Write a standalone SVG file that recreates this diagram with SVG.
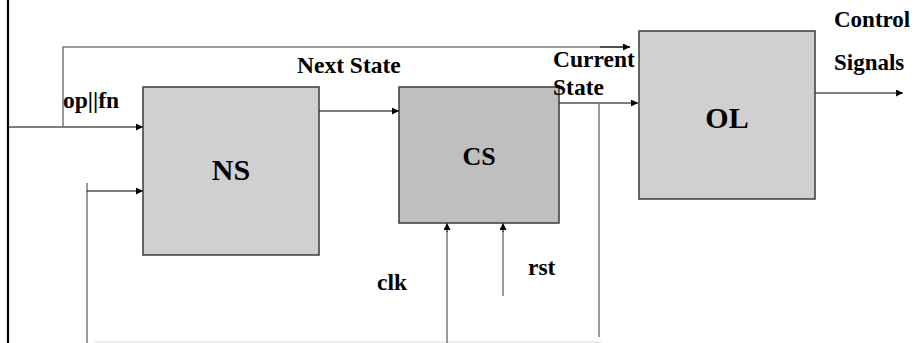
<svg xmlns="http://www.w3.org/2000/svg" width="918" height="343" viewBox="0 0 918 343">
  <style>
    .box { stroke: #3a3a3a; stroke-width: 1.5; }
    .light { fill: #d0d0d0; }
    .dark { fill: #bfbfbf; }
    .wire { fill: none; stroke: #000; stroke-width: 1; }
    .grey { fill: none; stroke: #7a7a7a; stroke-width: 1.5; }
    .lbl { font-family: "Liberation Serif", "Times New Roman", serif; font-weight: bold; fill: #000; }
  </style>
  <defs>
    <marker id="arrow" viewBox="0 0 10 10" refX="10" refY="5" markerWidth="9" markerHeight="7" markerUnits="userSpaceOnUse" orient="auto">
      <path d="M0,0 L10,5 L0,10 z" fill="#000"/>
    </marker>
  </defs>
  <rect width="918" height="343" fill="#fff"/>

  <!-- left border bar -->
  <line x1="8" y1="0" x2="8" y2="343" stroke="#000" stroke-width="2.2"/>

  <g id="connectors">
    <!-- op||fn input into NS, tapped upward to OL -->
    <line class="wire" x1="8" y1="127" x2="143" y2="127" marker-end="url(#arrow)"/>
    <polyline class="grey" points="63,127 63,47 630,47"/>
    <line class="wire" x1="600" y1="47" x2="630" y2="47" marker-end="url(#arrow)"/>
    <!-- next state: NS to CS -->
    <line class="wire" x1="310" y1="111" x2="399" y2="111" marker-end="url(#arrow)"/>
    <!-- current state: CS to OL -->
    <line class="wire" x1="559" y1="103" x2="638" y2="103" marker-end="url(#arrow)"/>
    <!-- current state fed back to NS -->
    <line class="grey" x1="599" y1="103" x2="599" y2="337"/>
    <line x1="95" y1="342" x2="601" y2="342" stroke="#e6e6e6" stroke-width="1.5"/>
    <line class="grey" x1="87" y1="183" x2="87" y2="343"/>
    <line class="wire" x1="87" y1="191" x2="143" y2="191" marker-end="url(#arrow)"/>
    <!-- clk and rst into CS -->
    <line class="grey" x1="447" y1="343" x2="447" y2="231"/>
    <line class="wire" x1="447" y1="232" x2="447" y2="223" marker-end="url(#arrow)"/>
    <line class="grey" x1="503" y1="296" x2="503" y2="231"/>
    <line class="wire" x1="503" y1="232" x2="503" y2="223" marker-end="url(#arrow)"/>
    <!-- control signals out of OL -->
    <line class="wire" x1="815" y1="93" x2="903" y2="93" marker-end="url(#arrow)"/>
  </g>

  <g id="NS">
    <rect class="box light" x="143" y="87" width="176" height="168"/>
    <text class="lbl" x="231" y="180" font-size="30" text-anchor="middle">NS</text>
  </g>

  <g id="CS">
    <rect class="box dark" x="399" y="87" width="160" height="136"/>
    <text class="lbl" x="479" y="165" font-size="26" text-anchor="middle">CS</text>
  </g>

  <g id="OL">
    <rect class="box light" x="639" y="31" width="176" height="168"/>
    <text class="lbl" x="727" y="128" font-size="30" text-anchor="middle">OL</text>
  </g>

  <!-- signal labels -->
  <text class="lbl" x="63" y="108" font-size="23.5">op||fn</text>
  <text class="lbl" x="297" y="73" font-size="23.5">Next State</text>
  <text class="lbl" x="553" y="67" font-size="23.5">Current</text>
  <text class="lbl" x="553" y="95" font-size="23.5">State</text>
  <text class="lbl" x="834" y="27" font-size="23">Control</text>
  <text class="lbl" x="834" y="70" font-size="23">Signals</text>
  <text class="lbl" x="377" y="290" font-size="23.5">clk</text>
  <text class="lbl" x="528" y="275" font-size="23.5">rst</text>
</svg>
